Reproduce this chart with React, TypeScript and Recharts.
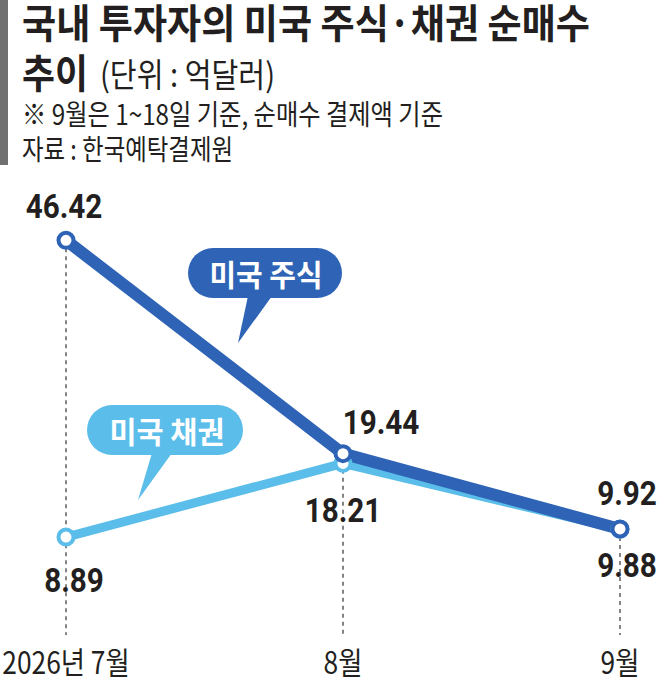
import { LabelList, Line, LineChart, ReferenceLine, XAxis, YAxis } from "recharts";

const MONTHS = ["2026년 7월", "8월", "9월"];
const STOCK = [46.42, 19.44, 9.92];
const BOND = [8.89, 18.21, 9.88];
const Y_DOMAIN = [-4, 50];
const GUIDE_BOTTOM = -3.5;

const STOCK_COLOR = "#2e63b5";
const BOND_COLOR = "#5bbde9";
const INK = "#231f20";
const KR = "'Noto Sans CJK KR', 'Noto Sans', sans-serif";

// label placement relative to each point (dx, dy)
const STOCK_LABEL_OFFSET = [
  [-2, -22],
  [38, -20],
  [7, -24],
];
const BOND_LABEL_OFFSET = [
  [8, 55],
  [0, 59],
  [7, 48],
];

const data = MONTHS.map((month, i) => ({ month, stock: STOCK[i], bond: BOND[i] }));

function valueLabel(offsets: number[][]) {
  return (props: any) => {
    const { x, y, value, index } = props;
    const [dx, dy] = offsets[index] ?? [0, 0];
    return (
      <text
        transform={`translate(${x + dx} ${y + dy}) scale(0.9 1)`}
        textAnchor="middle"
        fontFamily="Roboto, sans-serif"
        fontWeight={700}
        fontSize={33}
        fill={INK}
      >
        {Number(value).toFixed(2)}
      </text>
    );
  };
}

function MonthTick(props: any) {
  const { x, y, payload } = props;
  return (
    <text
      transform={`translate(${x} ${y + 35}) scale(0.85 1)`}
      textAnchor="middle"
      fontFamily={KR}
      fontSize={31}
      fill={INK}
    >
      {payload.value}
    </text>
  );
}

function Header() {
  return (
    <svg width={661} height={170} style={{ position: "absolute", left: 0, top: 0 }}>
      <rect x={0} y={0} width={8} height={165} fill="#707070" />
      <text x={22} y={38} fontFamily={KR} fontWeight={700} fontSize={40} fill={INK} textLength={568} lengthAdjust="spacingAndGlyphs">
        국내 투자자의 미국 주식·채권 순매수
      </text>
      <text x={22} y={88} fontFamily={KR} fontWeight={700} fontSize={40} fill={INK} textLength={66} lengthAdjust="spacingAndGlyphs">
        추이
      </text>
      <text x={100} y={87} fontFamily={KR} fontSize={33} fill={INK} textLength={175} lengthAdjust="spacingAndGlyphs">
        (단위 : 억달러)
      </text>
      <text x={22} y={125} fontFamily={KR} fontSize={28} fill={INK} textLength={421} lengthAdjust="spacingAndGlyphs">
        ※ 9월은 1~18일 기준, 순매수 결제액 기준
      </text>
      <text x={22} y={160} fontFamily={KR} fontSize={28} fill={INK} textLength={211} lengthAdjust="spacingAndGlyphs">
        자료 : 한국예탁결제원
      </text>
    </svg>
  );
}

function Callouts() {
  return (
    <svg width={661} height={681} style={{ position: "absolute", left: 0, top: 0, pointerEvents: "none" }}>
      <rect x={188} y={248} width={154} height={50} rx={25} fill={STOCK_COLOR} />
      <path d="M248 296 L272 296 L238 343 Z" fill={STOCK_COLOR} />
      <text x={266} y={286} textAnchor="middle" fontFamily={KR} fontWeight={700} fontSize={30} fill="#fff" textLength={113} lengthAdjust="spacingAndGlyphs">
        미국 주식
      </text>
      <rect x={87} y={405} width={156} height={50} rx={25} fill={BOND_COLOR} />
      <path d="M152 453 L172 453 L138 500 Z" fill={BOND_COLOR} />
      <text x={167} y={443} textAnchor="middle" fontFamily={KR} fontWeight={700} fontSize={30} fill="#fff" textLength={115} lengthAdjust="spacingAndGlyphs">
        미국 채권
      </text>
    </svg>
  );
}

export default function App() {
  return (
    <div style={{ position: "absolute", left: 0, top: 0, width: 661, height: 681, background: "#fff" }}>
      <Header />
      <div style={{ position: "absolute", left: 0, top: 0 }}>
        <LineChart width={661} height={681} data={data} margin={{ top: 212, right: 41, bottom: 2, left: 66 }}>
          <XAxis
            dataKey="month"
            axisLine={false}
            tickLine={false}
            tickSize={0}
            tickMargin={0}
            height={40}
            interval={0}
            tick={<MonthTick />}
          />
          <YAxis hide type="number" domain={Y_DOMAIN} />
          {MONTHS.map((m, i) => (
            <ReferenceLine
              key={m}
              segment={[
                { x: m, y: Math.max(STOCK[i], BOND[i]) },
                { x: m, y: GUIDE_BOTTOM },
              ]}
              stroke="#333"
              strokeWidth={1.2}
              strokeDasharray="4 4"
              ifOverflow="visible"
            />
          ))}
          <Line
            dataKey="bond"
            stroke={BOND_COLOR}
            strokeWidth={9}
            strokeLinejoin="round"
            dot={{ r: 7.5, fill: "#fff", stroke: BOND_COLOR, strokeWidth: 4 }}
            activeDot={false}
            isAnimationActive={false}
          >
            <LabelList dataKey="bond" content={valueLabel(BOND_LABEL_OFFSET)} />
          </Line>
          <Line
            dataKey="stock"
            stroke={STOCK_COLOR}
            strokeWidth={12}
            strokeLinejoin="round"
            dot={{ r: 7.5, fill: "#fff", stroke: STOCK_COLOR, strokeWidth: 4 }}
            activeDot={false}
            isAnimationActive={false}
          >
            <LabelList dataKey="stock" content={valueLabel(STOCK_LABEL_OFFSET)} />
          </Line>
        </LineChart>
      </div>
      <Callouts />
    </div>
  );
}
